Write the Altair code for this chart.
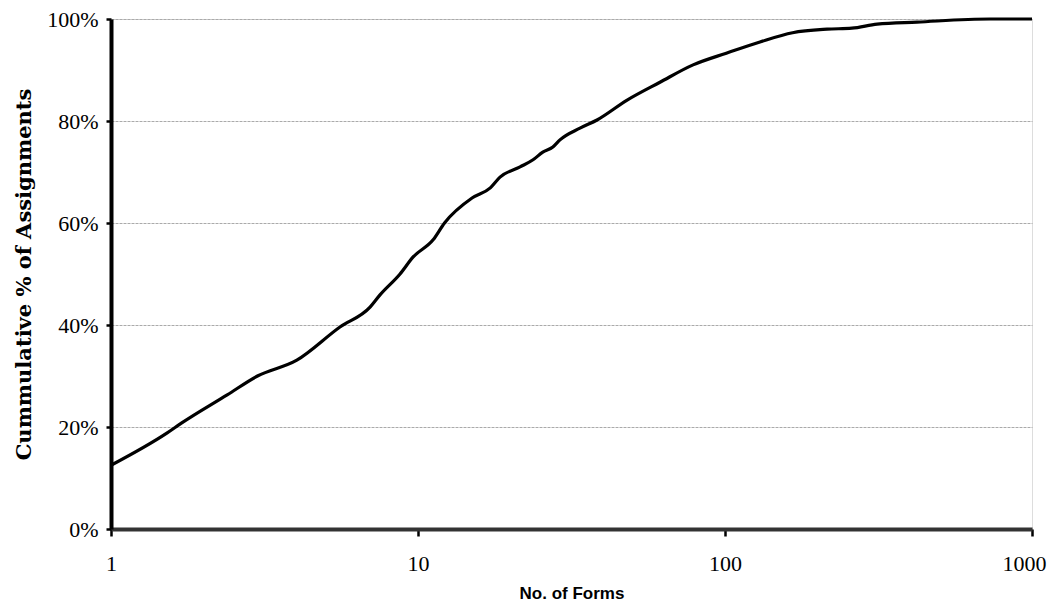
import altair as alt
import pandas as pd

forms = [1.0, 1.52, 1.7, 2.39, 3.0, 4.03, 5.57, 6.98, 7.52, 8.74, 9.63, 11.2, 12.2,
         15.0, 17.2, 18.5, 21.5, 23.7, 25.5, 27.5, 29.0, 33.7, 38.3, 48.0, 61.4,
         78.7, 101.0, 130.0, 166.0, 215.0, 259.0, 313.0, 422.0, 730.0, 1000.0]
cum_pct = [12.5, 18.8, 20.8, 26.3, 30.0, 33.1, 39.6, 43.5, 45.9, 50.0, 53.3, 56.7, 60.0,
           64.9, 66.9, 69.0, 71.0, 72.4, 73.9, 74.9, 76.3, 78.6, 80.2, 84.1, 87.6,
           91.0, 93.3, 95.5, 97.3, 98.0, 98.2, 99.0, 99.4, 100.0, 100.0]
x_ticks = [1, 10, 100, 1000]
y_ticks = [0, 0.2, 0.4, 0.6, 0.8, 1.0]

df = pd.DataFrame({"forms": forms, "cum": [v / 100 for v in cum_pct]})

line = alt.Chart(df).mark_line(color="black", strokeWidth=3.2, interpolate="monotone").encode(
    x=alt.X("forms:Q",
            scale=alt.Scale(type="log", domain=[1, 1000], nice=False),
            axis=alt.Axis(values=x_ticks, format="d", grid=False,
                          title="No. of Forms",
                          titleFont="Liberation Sans", titleFontSize=17, titleFontWeight="bold",
                          titleColor="black", titlePadding=11,
                          labelFont="Liberation Serif", labelFontSize=22, labelColor="black",
                          labelPadding=17, tickSize=7, tickWidth=2.5, tickColor="black",
                          labelOffset=alt.ExprRef("datum.value >= 1000 ? -8 : 0"),
                          domainColor="#333333", domainWidth=4, labelFlush=False)),
    y=alt.Y("cum:Q",
            scale=alt.Scale(domain=[0, 1], nice=False),
            axis=alt.Axis(values=y_ticks, format=".0%", grid=True,
                          gridColor="#aaaaaa", gridWidth=1, gridDash=[3, 1],
                          title="Cummulative % of Assignments",
                          titleFont="DejaVu Serif", titleFontSize=21, titleFontWeight="bold",
                          titleColor="black", titlePadding=12,
                          labelFont="Liberation Serif", labelFontSize=22, labelColor="black",
                          labelPadding=8, tickSize=5, tickWidth=2.5, tickColor="black",
                          domainColor="black", domainWidth=4)),
)

chart = line.properties(
    width=921, height=510,
    autosize=alt.AutoSizeParams(type="none"),
    padding={"left": 103, "top": 11, "right": 15, "bottom": 76},
).configure_view(stroke=None).configure(background="white")

chart.save("out.html", embed_options={"renderer": "svg", "actions": False})
